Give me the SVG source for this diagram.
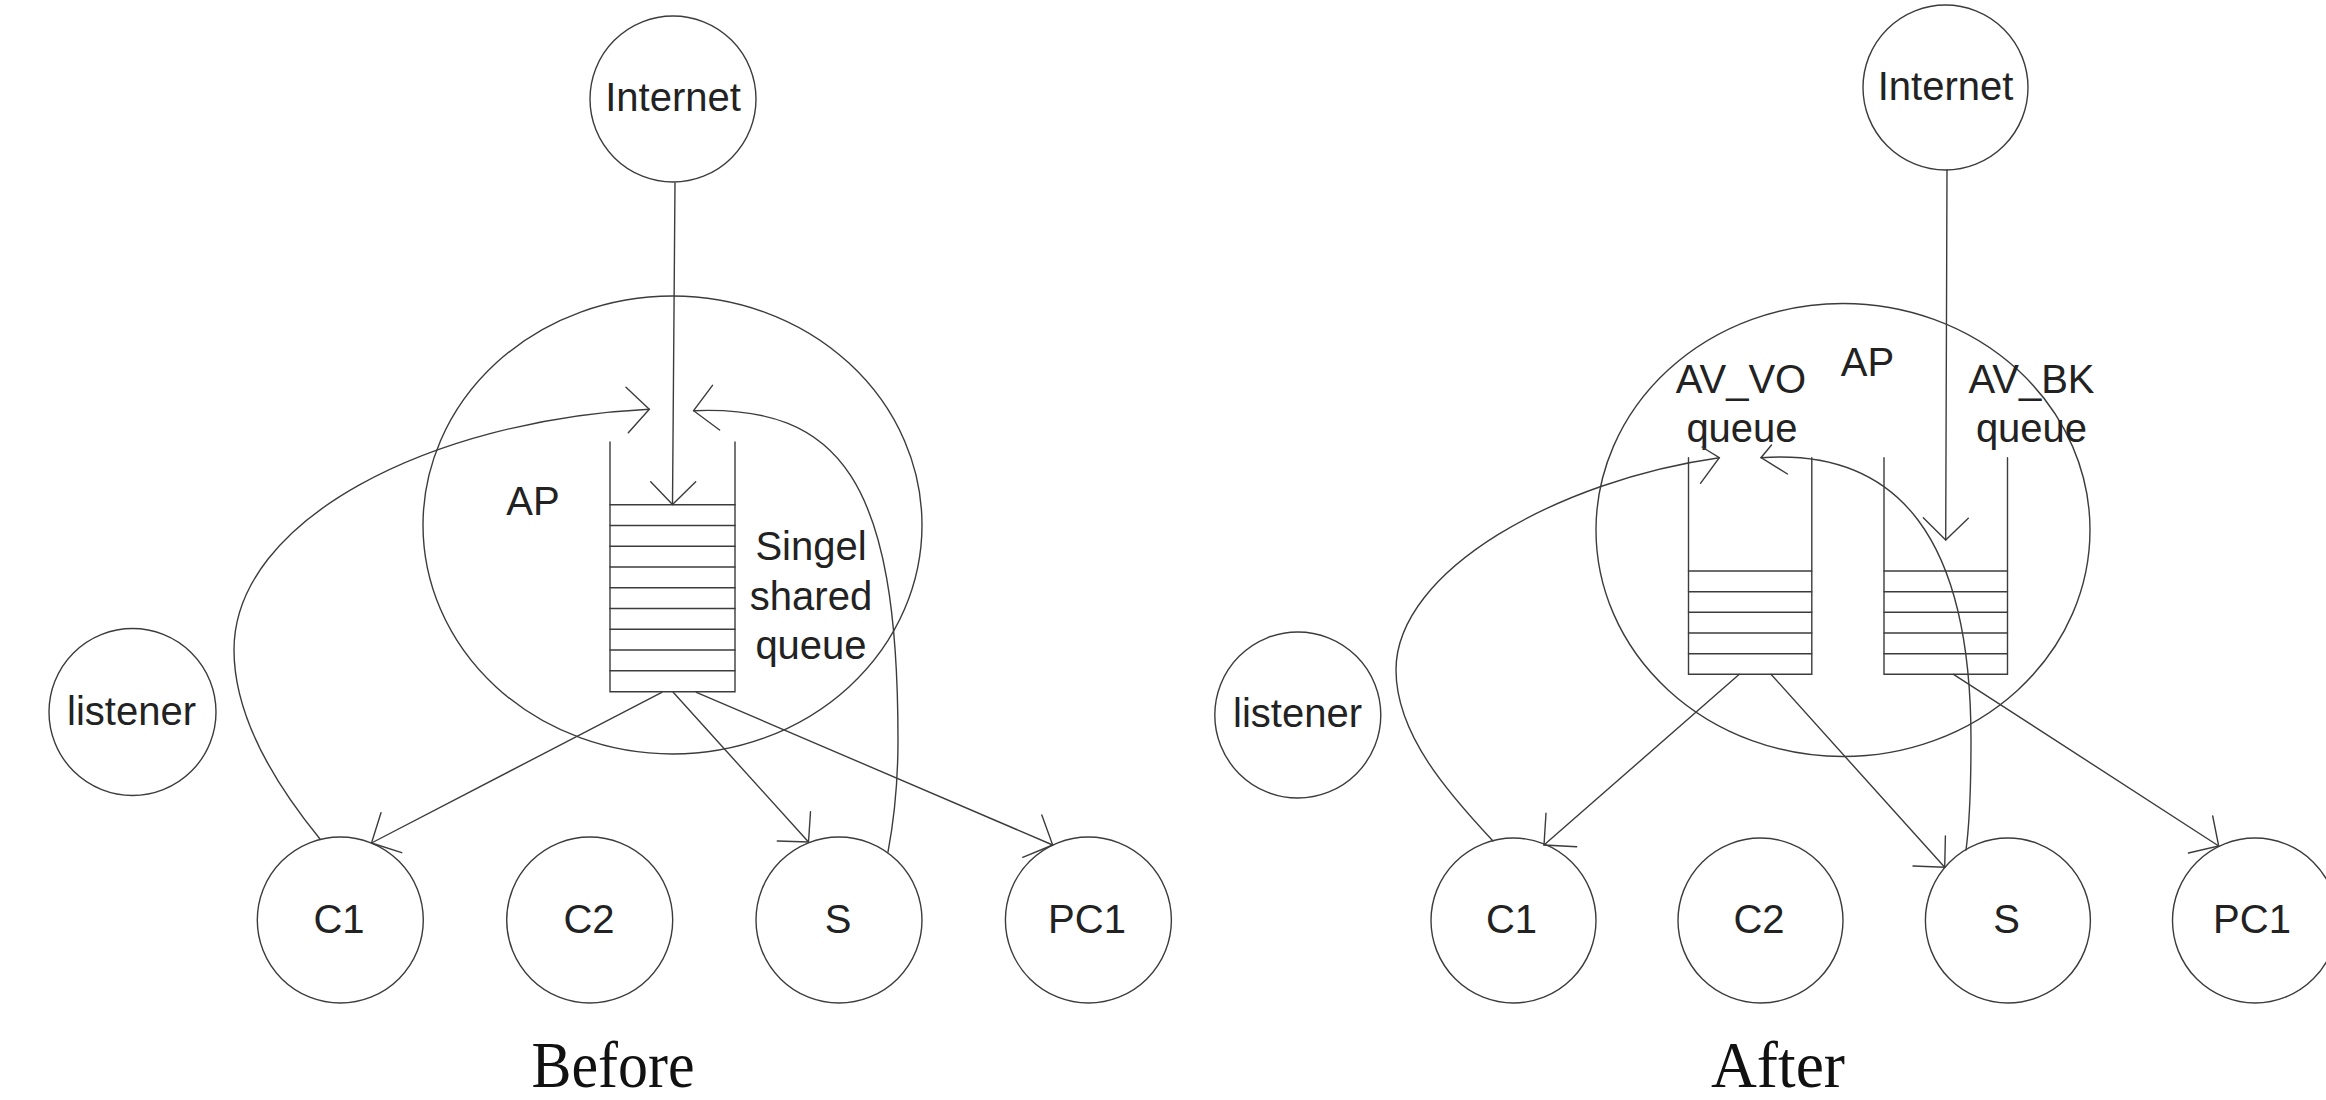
<svg xmlns="http://www.w3.org/2000/svg" width="2326" height="1100" viewBox="0 0 2326 1100">
  <style>
    .ln { fill: none; stroke: #3c3c3c; stroke-width: 1.4; stroke-linecap: round; stroke-linejoin: miter; }
    .nd { fill: none; stroke: #3c3c3c; stroke-width: 1.4; }
    .lb { font-family: "Liberation Sans", Arial, sans-serif; font-size: 40px; fill: #222; text-anchor: middle; }
    .cap { font-family: "Liberation Serif", "Times New Roman", serif; font-size: 66px; fill: #111; text-anchor: middle; }
  </style>
  <rect width="2326" height="1100" fill="#ffffff"/>

  <!-- ===================== Before ===================== -->
  <g id="before-internet">
    <circle class="nd" cx="673" cy="99" r="83"/>
    <text class="lb" x="673" y="111">Internet</text>
  </g>
  <g id="before-ap">
    <ellipse class="nd" cx="672.5" cy="525" rx="249.5" ry="229"/>
    <text class="lb" x="533" y="515">AP</text>
  </g>
  <g id="before-queue">
    <path class="ln" d="M610,442 V691.7 H735 V442"/>
    <path class="ln" d="M610,504.7 H735 M610,525.5 H735 M610,546.3 H735 M610,567 H735 M610,587.8 H735 M610,608.5 H735 M610,629.3 H735 M610,650 H735 M610,670.8 H735"/>
    <text class="lb" x="811" y="560">Singel</text>
    <text class="lb" x="811" y="610">shared</text>
    <text class="lb" x="811" y="659">queue</text>
  </g>
  <g id="before-listener">
    <circle class="nd" cx="132.5" cy="712" r="83.5"/>
    <text class="lb" x="131.5" y="725">listener</text>
  </g>
  <g id="before-c1">
    <circle class="nd" cx="340.3" cy="920" r="83"/>
    <text class="lb" x="339" y="933">C1</text>
  </g>
  <g id="before-c2">
    <circle class="nd" cx="589.7" cy="920" r="83"/>
    <text class="lb" x="589" y="933">C2</text>
  </g>
  <g id="before-s">
    <circle class="nd" cx="839" cy="920" r="83"/>
    <text class="lb" x="838" y="933">S</text>
  </g>
  <g id="before-pc1">
    <circle class="nd" cx="1088.4" cy="920" r="83"/>
    <text class="lb" x="1087" y="933">PC1</text>
  </g>
  <text class="cap" x="613" y="1086.7" textLength="163" lengthAdjust="spacingAndGlyphs">Before</text>

  <g id="before-connectors">
    <!-- Internet to queue -->
    <path class="ln" d="M675,183 L672.5,504.5"/>
    <polyline class="ln" points="650.7,481.7 672.5,504.5 695.7,481.7"/>
    <!-- C1 back into queue -->
    <path class="ln" d="M320,839 C280,790 234,720 234,650 C234,520 430,420 649.3,409.3"/>
    <polyline class="ln" points="626,387.3 649.3,409.3 628.3,432.7"/>
    <!-- S back into queue -->
    <path class="ln" d="M888,852 C894,820 898,780 898,740 C898,480 840,405 693.6,410.7"/>
    <polyline class="ln" points="712.5,385.3 693.6,410.7 719.6,430"/>
    <!-- queue to C1 -->
    <path class="ln" d="M661.8,692.3 L371.5,843"/>
    <polyline class="ln" points="381,812.7 371.5,843 401.7,852.7"/>
    <!-- queue to S -->
    <path class="ln" d="M673.2,692.3 L808.5,842"/>
    <polyline class="ln" points="810.5,811.7 808.5,842 777.3,841"/>
    <!-- queue to PC1 -->
    <path class="ln" d="M696.4,692.3 L1052.7,845"/>
    <polyline class="ln" points="1041.8,815 1052.7,845 1022.7,857.3"/>
  </g>

  <!-- ===================== After ===================== -->
  <g id="after-internet">
    <circle class="nd" cx="1945.5" cy="87.5" r="82.5"/>
    <text class="lb" x="1945.5" y="100">Internet</text>
  </g>
  <g id="after-ap">
    <ellipse class="nd" cx="1843" cy="530" rx="247" ry="226.5"/>
    <text class="lb" x="1867.5" y="376">AP</text>
  </g>
  <g id="after-vo-queue">
    <path class="ln" d="M1688.5,457.7 V674.3 H1811.8 V457.7"/>
    <path class="ln" d="M1688.5,571 H1811.8 M1688.5,591.7 H1811.8 M1688.5,612.3 H1811.8 M1688.5,633 H1811.8 M1688.5,653.7 H1811.8"/>
    <text class="lb" x="1741" y="393.3">AV_VO</text>
    <text class="lb" x="1742" y="442">queue</text>
  </g>
  <g id="after-bk-queue">
    <path class="ln" d="M1884,457.7 V674.3 H2007.5 V457.7"/>
    <path class="ln" d="M1884,571 H2007.5 M1884,591.7 H2007.5 M1884,612.3 H2007.5 M1884,633 H2007.5 M1884,653.7 H2007.5"/>
    <text class="lb" x="2031.5" y="393.3">AV_BK</text>
    <text class="lb" x="2031.5" y="442">queue</text>
  </g>
  <g id="after-listener">
    <circle class="nd" cx="1297.8" cy="715" r="83"/>
    <text class="lb" x="1297.5" y="727">listener</text>
  </g>
  <g id="after-c1">
    <circle class="nd" cx="1513.5" cy="920.5" r="82.5"/>
    <text class="lb" x="1511.5" y="933">C1</text>
  </g>
  <g id="after-c2">
    <circle class="nd" cx="1760.5" cy="920.5" r="82.5"/>
    <text class="lb" x="1759" y="933">C2</text>
  </g>
  <g id="after-s">
    <circle class="nd" cx="2007.9" cy="920.5" r="82.5"/>
    <text class="lb" x="2006.5" y="933">S</text>
  </g>
  <g id="after-pc1">
    <circle class="nd" cx="2255" cy="920.5" r="82.5"/>
    <text class="lb" x="2252" y="933">PC1</text>
  </g>
  <text class="cap" x="1778" y="1086.7" textLength="134" lengthAdjust="spacingAndGlyphs">After</text>

  <g id="after-connectors">
    <!-- Internet to AV_BK queue -->
    <path class="ln" d="M1947,170 L1945.7,540"/>
    <polyline class="ln" points="1923.3,517.7 1945.7,540 1968.3,518.3"/>
    <!-- C1 back into AV_VO queue -->
    <path class="ln" d="M1493,841 C1450,795 1396,735 1396,670 C1396,570 1560,480 1719.3,457.7"/>
    <polyline class="ln" points="1702,447 1719.3,457.7 1700.5,483.3"/>
    <!-- S back into AV_VO queue -->
    <path class="ln" d="M1966,850 C1970,820 1971,780 1971,740 C1971,540 1900,448 1761,457.7"/>
    <polyline class="ln" points="1771.5,445 1761,457.7 1787.5,474"/>
    <!-- AV_VO queue to C1 -->
    <path class="ln" d="M1739.3,674.3 L1544,845"/>
    <polyline class="ln" points="1546,813.3 1544,845 1576.7,846.7"/>
    <!-- AV_VO queue to S -->
    <path class="ln" d="M1771,674.3 L1944.7,867.3"/>
    <polyline class="ln" points="1945.4,836 1944.7,867.3 1913,866"/>
    <!-- AV_BK queue to PC1 -->
    <path class="ln" d="M1953.5,674.3 L2218.7,846"/>
    <polyline class="ln" points="2212.7,816 2218.7,846 2188.5,853"/>
  </g>
</svg>
